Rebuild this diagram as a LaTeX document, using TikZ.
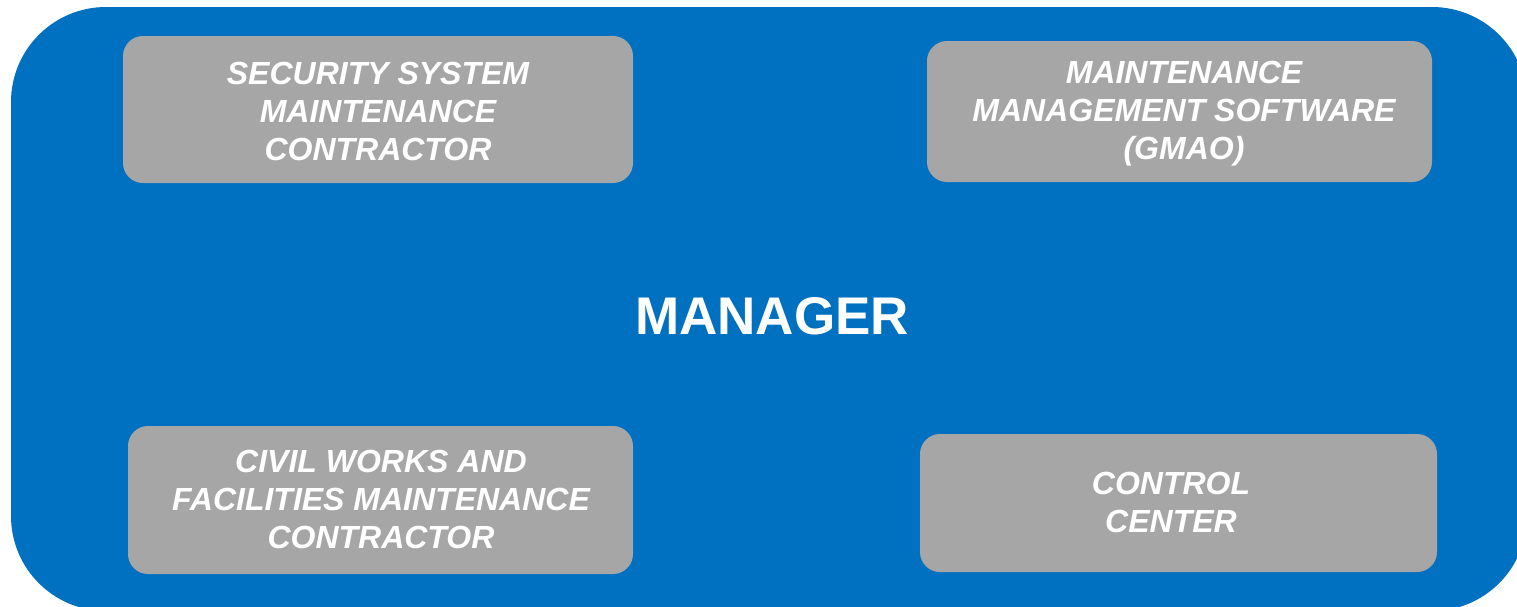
\documentclass[tikz,border=0pt]{standalone}
\usepackage{fontspec}
\setmainfont{Liberation Sans}
\definecolor{mblue}{HTML}{0070C0}
\definecolor{mgray}{HTML}{A6A6A6}
\tikzset{
  panel/.style={fill=mblue, draw=none, rounded corners=95pt, inner sep=0pt},
  graybox/.style={fill=mgray, draw=none, rounded corners=20pt, inner sep=0pt},
  boxtext/.style={inner sep=0pt, text=white, align=center,
    font=\fontsize{32pt}{38pt}\selectfont\bfseries\itshape},
  title/.style={text=white, font=\fontsize{53pt}{60pt}\selectfont\bfseries, inner sep=0pt}
}
\begin{document}
\begin{tikzpicture}[x=1pt,y=-1pt]
\useasboundingbox (0,0) rectangle (1517,606);
\clip (0,0) rectangle (1517,606);
\fill[white] (0,0) rectangle (1517,606);
\node[panel, minimum width=1516pt, minimum height=604pt] (main) at (769,309) {};
\node[graybox, minimum width=510pt, minimum height=147pt] (sec) at (378,109.5) {};
\node[boxtext] (sect) at (378,111) {SECURITY SYSTEM\\MAINTENANCE\\CONTRACTOR};
\node[graybox, minimum width=505pt, minimum height=141pt] (gmao) at (1179.5,111.5) {};
\node[boxtext] (gmaot) at (1184,114) {MAINTENANCE\\MANAGEMENT SOFTWARE\\(GMAO)};
\node[graybox, minimum width=505pt, minimum height=148pt] (civil) at (380.5,500) {};
\node[boxtext] (civilt) at (381,499) {CIVIL WORKS AND\\FACILITIES MAINTENANCE\\CONTRACTOR};
\node[graybox, minimum width=517pt, minimum height=138pt] (cc) at (1178.5,503) {};
\node[boxtext] (cct) at (1171,502) {CONTROL\\CENTER};
\node[title] (mgr) at (772,316) {MANAGER};
\end{tikzpicture}
\end{document}
